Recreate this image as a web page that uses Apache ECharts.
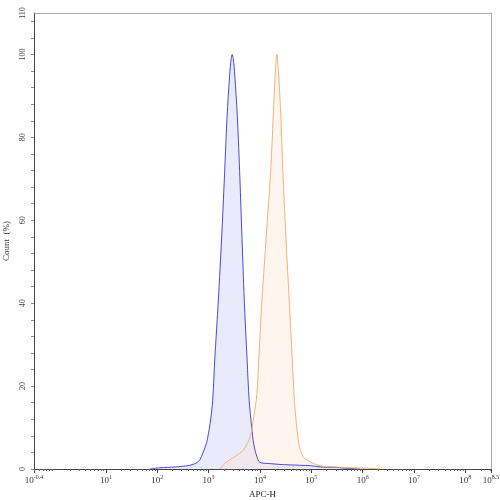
<!DOCTYPE html>
<html>
<head>
<meta charset="utf-8">
<script src="https://cdn.jsdelivr.net/npm/echarts@6/dist/echarts.min.js"></script>
<style>
  html, body { margin: 0; padding: 0; background: #fff; }
  #chart { width: 500px; height: 500px; }
</style>
</head>
<body>
<div id="chart"></div>
<script>
// x values are log10(APC-H), y values are Count (%)
const blueX = [1.86, 2.05, 2.35, 2.64, 2.77, 2.83, 2.89, 2.96, 3.03, 3.08, 3.12, 3.19, 3.255, 3.30, 3.36, 3.41, 3.44, 3.46, 3.48, 3.51, 3.56, 3.61, 3.65, 3.695, 3.75, 3.79, 3.84, 3.88, 3.94, 4.0, 4.2, 4.39, 4.78, 4.99, 5.17, 5.46, 5.66, 5.95];
const blueY = [0, 0.3, 0.5, 0.9, 1.5, 2.2, 3.9, 6.3, 11, 16.6, 26.3, 40.8, 56, 68, 85, 95, 99, 100, 99, 95, 85, 70, 56, 40.8, 26.3, 16.6, 10, 6, 3, 1.6, 1.3, 1.1, 0.9, 0.8, 0.5, 0.4, 0.2, 0];
const orangeX = [3.22, 3.32, 3.51, 3.68, 3.81, 3.88, 3.94, 3.98, 4.03, 4.09, 4.15, 4.21, 4.27, 4.30, 4.33, 4.36, 4.40, 4.45, 4.49, 4.53, 4.57, 4.63, 4.67, 4.71, 4.76, 4.84, 4.97, 5.17, 5.46, 5.75, 6.05, 6.34];
const orangeY = [0, 1.4, 3, 4.6, 7.8, 12.6, 18, 27, 39, 50, 61, 72, 88, 96, 100, 96, 87, 71, 60, 50, 40.8, 26.3, 16.6, 11, 6, 3, 1.8, 0.8, 0.5, 0.3, 0.2, 0];

const xMajor = [-0.4, 1, 2, 3, 4, 5, 6, 7, 8, 8.5];
const xLabels = ['-0.4', '1', '2', '3', '4', '5', '6', '7', '8', '8.5'];
const yMajor = [0, 20, 40, 60, 80, 100, 110];

const xMin = -0.4, xMax = 8.5;
// minor ticks at log10(k * 10^d)
const xMinor = [];
for (let d = -1; d <= 8; d++) {
  for (let k = 2; k <= 9; k++) {
    const v = d + Math.log10(k);
    if (v > xMin && v < xMax) xMinor.push(v);
  }
}
const yMinor = [];
for (let v = 0; v <= 110; v += 4) yMinor.push(v);

const pair = (xs, ys) => xs.map((x, i) => [x, ys[i]]);
const font = 'Liberation Serif';

const chart = echarts.init(document.getElementById('chart'));
chart.setOption({
  animation: false,
  grid: { left: 34, right: 9, top: 13, bottom: 31, outerBoundsMode: 'none', containLabel: false },
  xAxis: [{
    type: 'value', min: xMin, max: xMax,
    name: 'APC-H', nameLocation: 'middle', nameGap: 17,
    nameTextStyle: { fontFamily: font, fontSize: 9, color: '#222' },
    splitLine: { show: false },
    axisLine: { onZero: false, lineStyle: { color: '#444', width: 1 } },
    axisTick: { customValues: xMajor, length: 4, lineStyle: { color: '#444' } },
    axisLabel: {
      customValues: xMajor, margin: 5, color: '#333', fontFamily: font,
      formatter: v => {
        const i = xMajor.findIndex(m => Math.abs(m - v) < 1e-6);
        return '{b|10}{s|' + (i >= 0 ? xLabels[i] : v) + '}';
      },
      rich: {
        b: { fontFamily: font, fontSize: 9, color: '#333', lineHeight: 11, verticalAlign: 'bottom' },
        s: { fontFamily: font, fontSize: 6, color: '#333', lineHeight: 11, verticalAlign: 'top' }
      }
    }
  }, {
    type: 'value', min: xMin, max: xMax, position: 'bottom',
    axisLine: { show: false, onZero: false }, splitLine: { show: false },
    axisLabel: { show: false },
    axisTick: { customValues: xMinor, length: 2, lineStyle: { color: '#666' } }
  }, {
    type: 'value', min: xMin, max: xMax, position: 'top',
    axisLine: { onZero: false, lineStyle: { color: '#aaa' } }, splitLine: { show: false },
    axisLabel: { show: false }, axisTick: { show: false }
  }],
  yAxis: [{
    type: 'value', min: 0, max: 110, position: 'left',
    name: 'Count  (%)', nameLocation: 'middle', nameGap: 22, nameRotate: 90,
    nameTextStyle: { fontFamily: font, fontSize: 9, color: '#333' },
    splitLine: { show: false },
    axisLine: { show: true, onZero: false, lineStyle: { color: '#444' } },
    axisTick: { show: true, customValues: yMinor, length: 3, lineStyle: { color: '#888' } },
    axisLabel: { customValues: yMajor, rotate: 90, margin: 7, color: '#444', fontFamily: font, fontSize: 8 }
  }, {
    type: 'value', min: 0, max: 110, position: 'right',
    axisLine: { show: true, onZero: false, lineStyle: { color: '#aaa' } }, splitLine: { show: false },
    axisLabel: { show: false }, axisTick: { show: false }
  }],
  series: [{
    name: 'blue', type: 'line', data: pair(blueX, blueY),
    smooth: 0.3, showSymbol: false, silent: true,
    lineStyle: { color: '#4a4ad6', width: 1 },
    areaStyle: { color: 'rgba(195,195,250,0.5)' }
  }, {
    name: 'orange', type: 'line', data: pair(orangeX, orangeY),
    smooth: 0.3, showSymbol: false, silent: true,
    lineStyle: { color: '#f0b27a', width: 1 },
    areaStyle: { color: 'rgba(252,228,200,0.45)' }
  }]
});
</script>
</body>
</html>
